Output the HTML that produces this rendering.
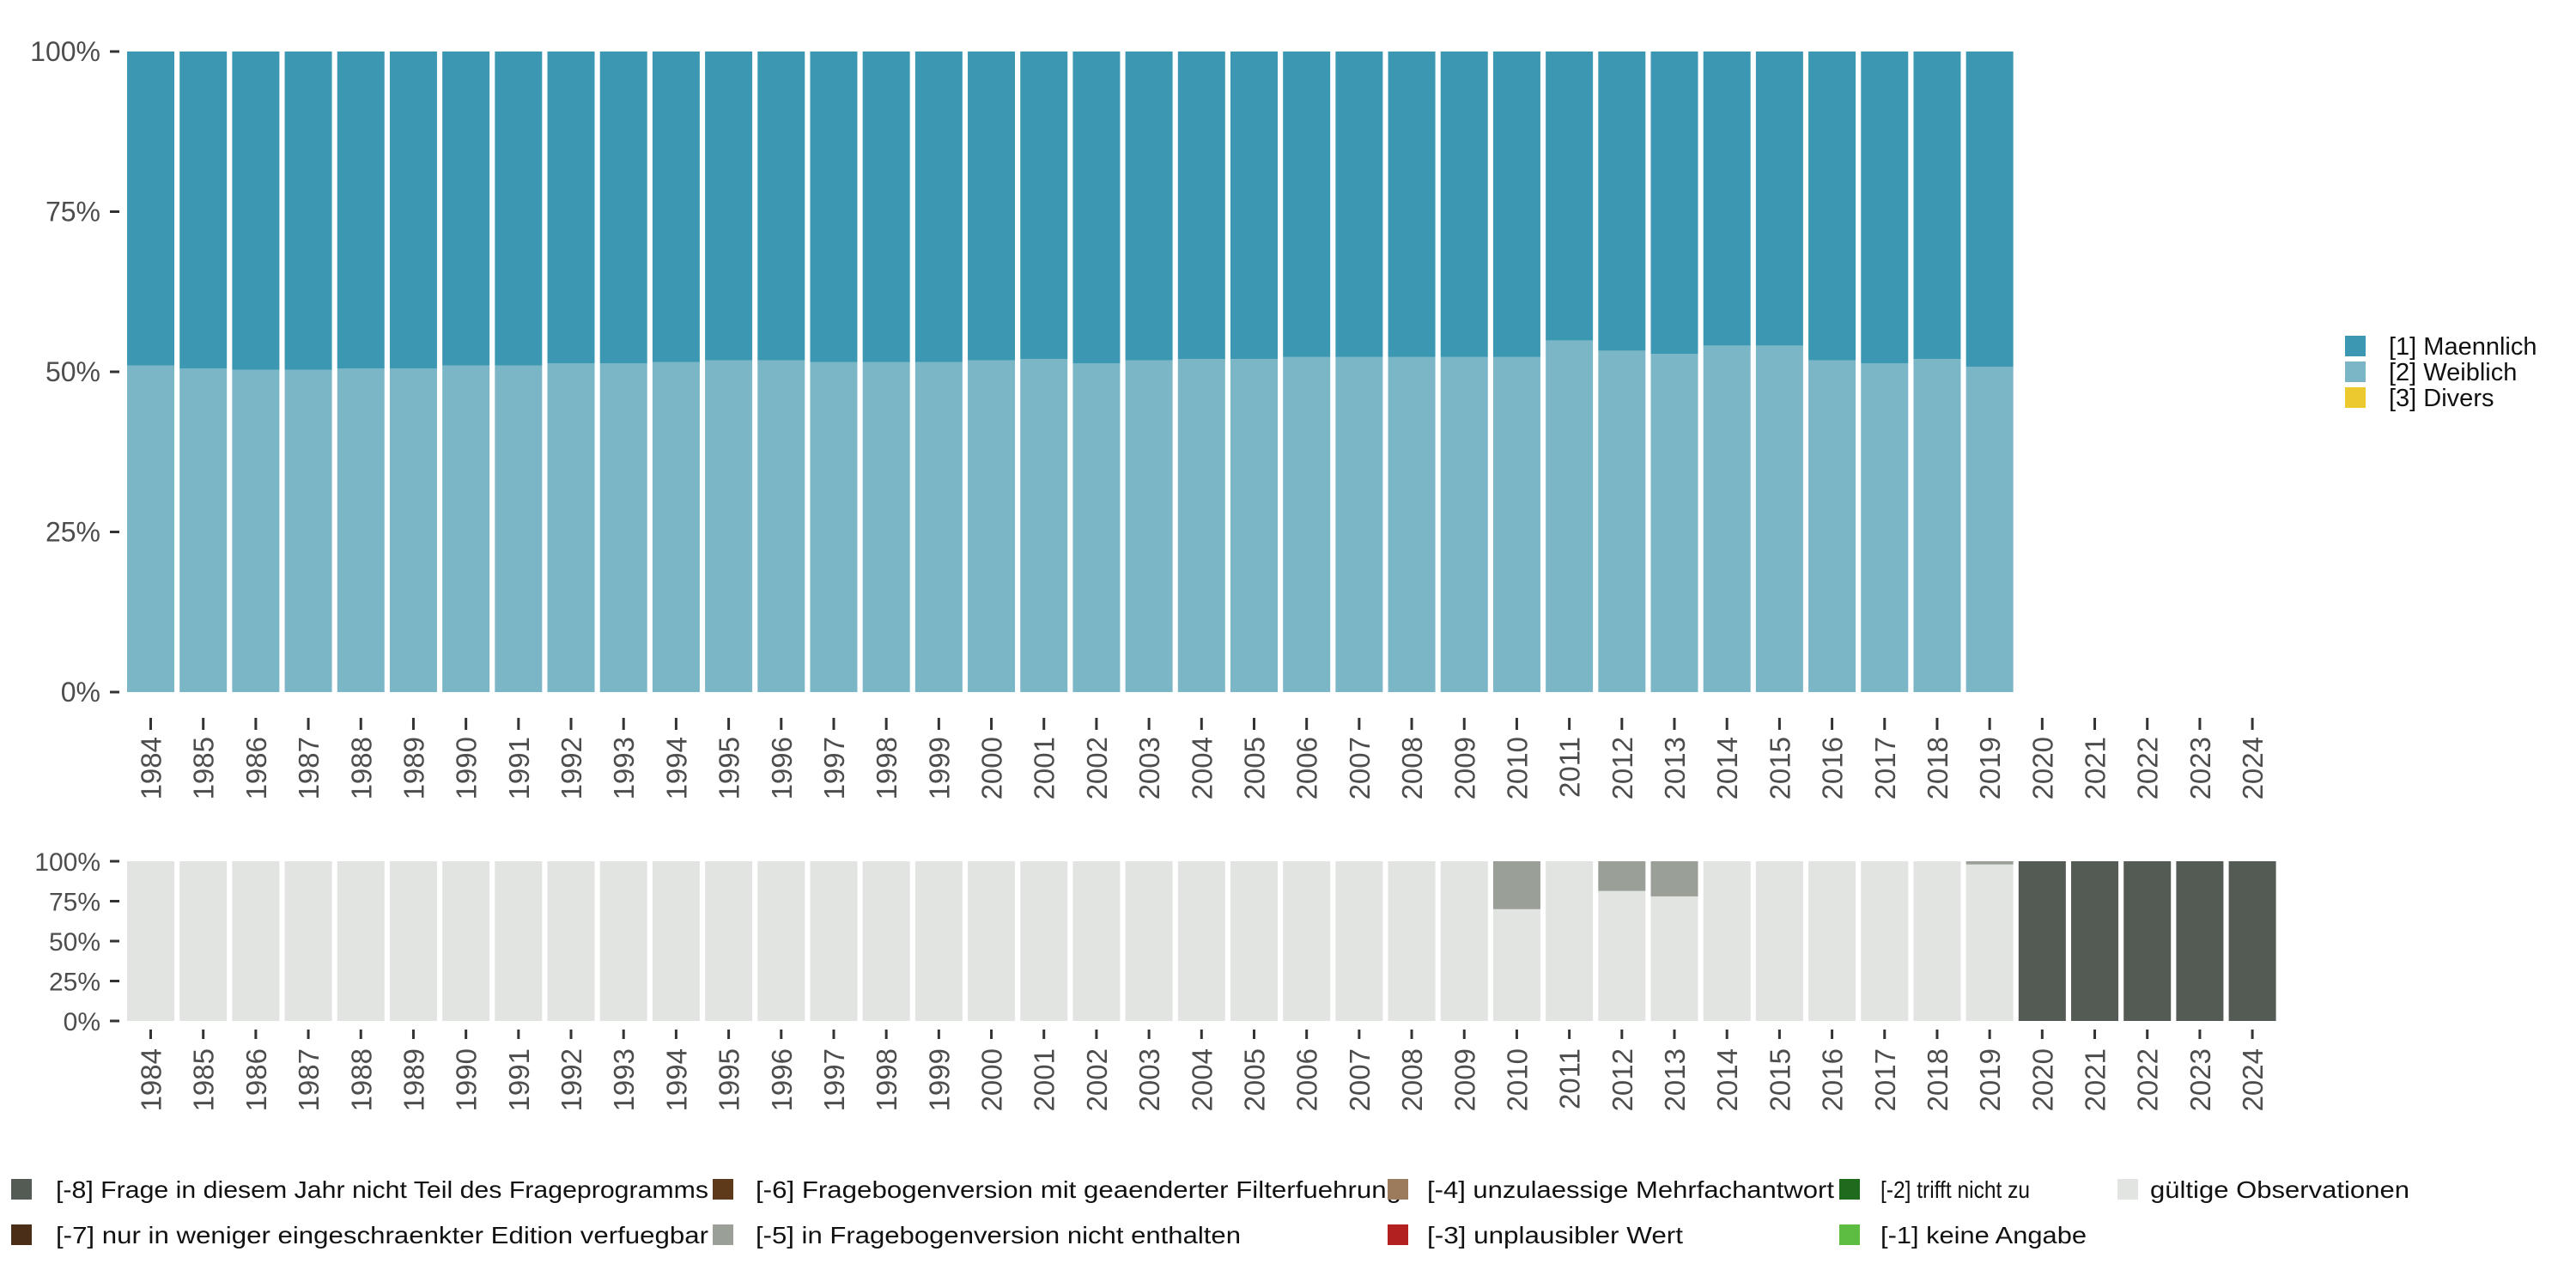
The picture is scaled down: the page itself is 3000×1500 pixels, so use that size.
<!DOCTYPE html>
<html><head><meta charset="utf-8">
<style>
html,body{margin:0;padding:0;background:#fff;}
svg{display:block;font-family:"Liberation Sans",sans-serif;}
</style></head>
<body>
<svg id="chart" width="3000" height="1500" viewBox="0 0 3000 1500" xmlns="http://www.w3.org/2000/svg"></svg>
<script>
const years = [1984,1985,1986,1987,1988,1989,1990,1991,1992,1993,1994,1995,1996,1997,1998,1999,2000,2001,2002,2003,2004,2005,2006,2007,2008,2009,2010,2011,2012,2013,2014,2015,2016,2017,2018,2019,2020,2021,2022,2023,2024];
const weiblich = [51.0,50.5,50.3,50.3,50.5,50.5,51.0,51.0,51.3,51.3,51.5,51.8,51.8,51.5,51.5,51.5,51.8,52.0,51.3,51.8,52.0,52.0,52.3,52.3,52.3,52.3,52.3,54.9,53.3,52.8,54.1,54.1,51.8,51.3,52.0,50.8,null,null,null,null,null];
const maennlich = weiblich.map(v => v === null ? null : 100 - v);
const valid = [100,100,100,100,100,100,100,100,100,100,100,100,100,100,100,100,100,100,100,100,100,100,100,100,100,100,70,100,81.4,78,100,100,100,100,100,98,0,0,0,0,0];
const notInVersion = [0,0,0,0,0,0,0,0,0,0,0,0,0,0,0,0,0,0,0,0,0,0,0,0,0,0,30,0,18.6,22,0,0,0,0,0,2,0,0,0,0,0];
const notAsked = [0,0,0,0,0,0,0,0,0,0,0,0,0,0,0,0,0,0,0,0,0,0,0,0,0,0,0,0,0,0,0,0,0,0,0,0,100,100,100,100,100];
const yTicks = [0,25,50,75,100];
const yTickLabels = ["0%","25%","50%","75%","100%"];

const NS = "http://www.w3.org/2000/svg";
const svg = document.getElementById("chart");
function el(tag, attrs, parent){
  const e = document.createElementNS(NS, tag);
  for (const k in attrs) e.setAttribute(k, attrs[k]);
  (parent||svg).appendChild(e);
  return e;
}
const pitch = 61.19, x0 = 175.5, bw = 55;
function xCenter(i){ return x0 + i*pitch; }
const topPanel = {y0:806, y1:60};
const botPanel = {y0:1189, y1:1003};
function yScale(p, v){ return p.y0 + (p.y1 - p.y0) * v/100; }

function drawPanel(p, name, tickLen, labelY, fs){
  const g = el("g", {});
  
  
  yTicks.forEach((t,i)=>{
    const y = yScale(p, t);
    const tk = el("line",{x1:128,x2:139,y1:y,y2:y,stroke:"#333","stroke-width":3},g);
    
    
    const tx = el("text",{x:117,y:y+11,"text-anchor":"end","font-size":fs,fill:"#4d4d4d"},g);
    tx.textContent = yTickLabels[i];
    
    
  });
  years.forEach((yr,i)=>{
    const x = xCenter(i);
    const tk = el("line",{x1:x,x2:x,y1:tickLen[0],y2:tickLen[1],stroke:"#333","stroke-width":3},g);
    
    
    const tx = el("text",{x:0,y:0,"text-anchor":"end","font-size":33,fill:"#4d4d4d",transform:`translate(${x+12},${labelY}) rotate(-90)`},g);
    tx.textContent = yr;
    
    
  });
  return g;
}
drawPanel(topPanel, "top-panel", [836,850], 858, 32);
drawPanel(botPanel, "bottom-panel", [1199,1210], 1221, 30);

function stack(p, seriesList, prefix){
  years.forEach((yr,i)=>{
    let acc = 0;
    seriesList.forEach(s=>{
      const v = s.data[i];
      if (v === null || v <= 0) return;
      const ya = yScale(p, acc), yb = yScale(p, acc+v);
      const r = el("rect",{x:xCenter(i)-bw/2,y:yb,width:bw,height:ya-yb,fill:s.color});
      
      
      acc += v;
    });
  });
}
stack(topPanel, [{key:"weiblich",data:weiblich,color:"#7ab6c6"},{key:"maennlich",data:maennlich,color:"#3c98b2"}], "bar");
stack(botPanel, [{key:"valid",data:valid,color:"#e1e4e0"},{key:"not-in-version",data:notInVersion,color:"#9a9f98"},{key:"not-asked",data:notAsked,color:"#545b55"}], "bar-missing");

// right legend
const rl = [["[1] Maennlich","#3c98b2"],["[2] Weiblich","#7ab6c6"],["[3] Divers","#ecc92e"]];
rl.forEach((d,i)=>{
  const y = 391 + i*30;
  const r = el("rect",{x:2731,y:y,width:24,height:24,fill:d[1]});
  
  
  const t = el("text",{x:2782,y:y+22,"font-size":29,fill:"#111"});
  t.textContent = d[0];
  
  
});

// bottom legend
const bl = [
  [13,1385,"[-8] Frage in diesem Jahr nicht Teil des Frageprogramms","#545b55",760,52],
  [13,1438,"[-7] nur in weniger eingeschraenkter Edition verfuegbar","#4a2e18",760,52],
  [830,1385,"[-6] Fragebogenversion mit geaenderter Filterfuehrung","#5e3a1a",752,50],
  [830,1438,"[-5] in Fragebogenversion nicht enthalten","#9a9f98",565,50],
  [1616,1385,"[-4] unzulaessige Mehrfachantwort","#9b7b5b",474,46],
  [1616,1438,"[-3] unplausibler Wert","#b2201f",298,46],
  [2142,1385,"[-2] trifft nicht zu","#1e6b1e",174,48],
  [2142,1438,"[-1] keine Angabe","#5dbd43",240,48],
  [2466,1385,"gültige Observationen","#e1e4e0",302,38]
];
bl.forEach(d=>{
  const r = el("rect",{x:d[0],y:d[1]-12,width:24,height:24,fill:d[3]});
  
  
  const t = el("text",{x:d[0]+d[5],y:d[1]+10,"font-size":28,fill:"#111",textLength:d[4],lengthAdjust:"spacingAndGlyphs"});
  t.textContent = d[2];
  
  
});
</script>
</body></html>
